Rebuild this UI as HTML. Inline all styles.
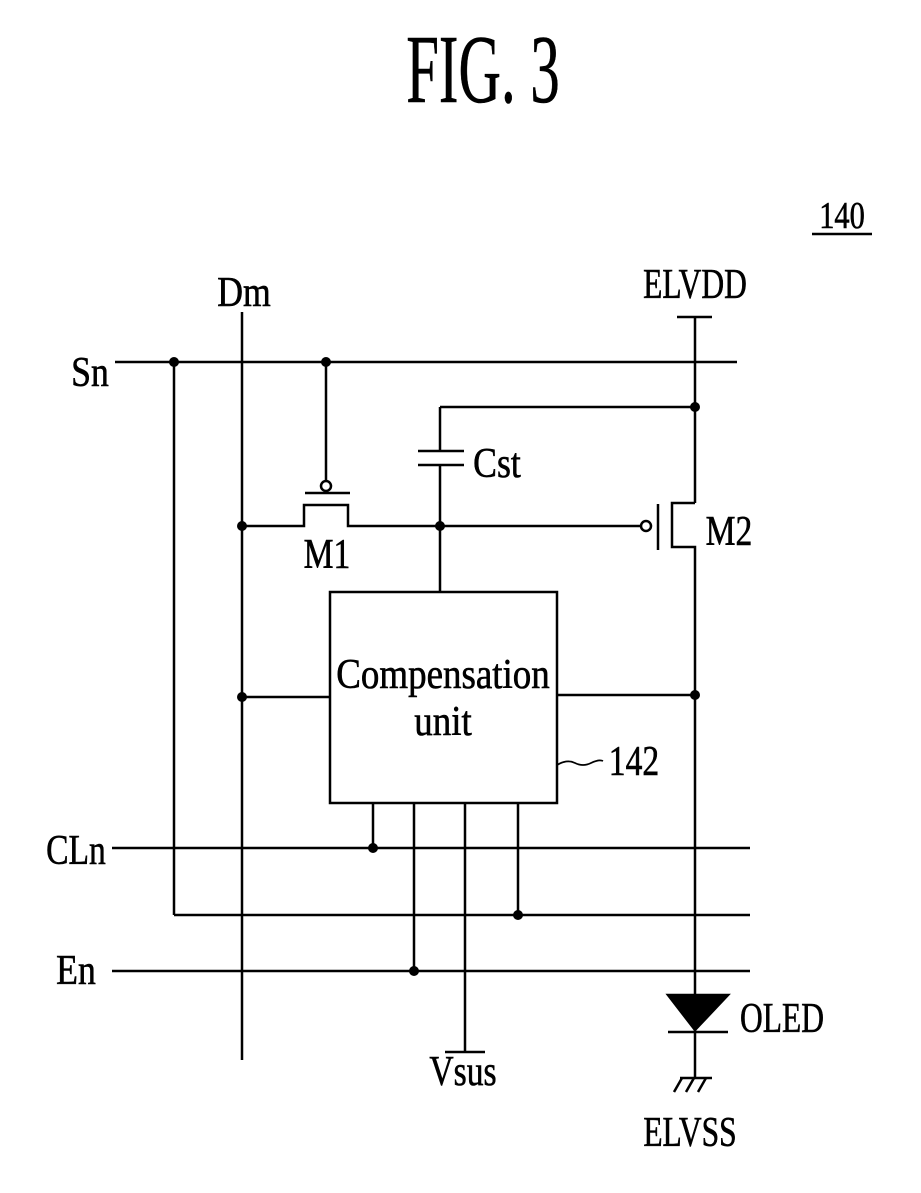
<!DOCTYPE html><html><head><style>body{margin:0;background:#fff}svg{display:block}text{font-family:"Liberation Serif",serif;fill:#000;stroke:#000;stroke-width:0.6}</style></head><body>
<svg width="921" height="1193" viewBox="0 0 921 1193" xmlns="http://www.w3.org/2000/svg">
<text x="483" y="102" font-size="98" text-anchor="middle" transform="translate(483,0) scale(0.6,1) translate(-483,0)" stroke-width="1">FIG. 3</text>
<g stroke="#000" stroke-width="2.5" fill="none">
<line x1="812" y1="234" x2="872" y2="234"/>
<line x1="115" y1="362" x2="737" y2="362"/>
<line x1="242" y1="312" x2="242" y2="1060"/>
<line x1="677" y1="317" x2="712" y2="317"/>
<line x1="695" y1="317" x2="695" y2="503"/>
<line x1="440" y1="407" x2="695" y2="407"/>
<line x1="440" y1="407" x2="440" y2="451"/>
<line x1="418" y1="451" x2="464" y2="451"/>
<line x1="418" y1="465" x2="464" y2="465"/>
<line x1="440" y1="465" x2="440" y2="592"/>
<line x1="326" y1="362" x2="326" y2="480"/>
<circle cx="326" cy="486" r="5"/>
<line x1="305" y1="493" x2="350" y2="493"/>
<polyline points="242,526 304,526 304,505 348,505 348,526 640,526"/>
<circle cx="646" cy="526" r="5"/>
<line x1="658" y1="504" x2="658" y2="550"/>
<polyline points="695,503 672,503 672,547 695,547 695,995"/>
<rect x="330" y="592" width="227" height="211"/>
<line x1="242" y1="697" x2="330" y2="697"/>
<line x1="557" y1="695" x2="695" y2="695"/>
<path d="M557,765 q10,-6 18,-2 t16,0 t12,-2" stroke-width="1.8"/>
<line x1="112" y1="848" x2="750" y2="848"/>
<line x1="373" y1="803" x2="373" y2="848"/>
<line x1="174" y1="362" x2="174" y2="915"/>
<line x1="174" y1="915" x2="750" y2="915"/>
<line x1="518" y1="803" x2="518" y2="915"/>
<line x1="112" y1="971" x2="750" y2="971"/>
<line x1="414" y1="803" x2="414" y2="971"/>
<line x1="465" y1="803" x2="465" y2="1052"/>
<line x1="445" y1="1052" x2="485" y2="1052"/>
<polygon points="668,995 728,995 695,1030" fill="#000"/>
<line x1="668" y1="1032" x2="728" y2="1032"/>
<line x1="695" y1="1030" x2="695" y2="1078"/>
<line x1="680" y1="1078" x2="712" y2="1078"/>
<line x1="682" y1="1078" x2="674" y2="1092"/><line x1="694" y1="1078" x2="686" y2="1092"/><line x1="706" y1="1078" x2="698" y2="1092"/>
</g>
<g fill="#000">
<circle cx="174" cy="362" r="5"/><circle cx="326" cy="362" r="5"/><circle cx="695" cy="407" r="5"/>
<circle cx="242" cy="526" r="5"/><circle cx="440" cy="526" r="5"/><circle cx="242" cy="697" r="5"/>
<circle cx="695" cy="695" r="5"/><circle cx="373" cy="848" r="5"/><circle cx="518" cy="915" r="5"/><circle cx="414" cy="971" r="5"/>
</g>
<g font-size="42">
<text x="842" y="228" text-anchor="middle" font-size="38" transform="translate(842,0) scale(0.8,1) translate(-842,0)">140</text>
<text x="244" y="306" text-anchor="middle" transform="translate(244,0) scale(0.85,1) translate(-244,0)">Dm</text>
<text x="695" y="298" text-anchor="middle" transform="translate(695,0) scale(0.75,1) translate(-695,0)">ELVDD</text>
<text x="90" y="386" text-anchor="middle" transform="translate(90,0) scale(0.85,1) translate(-90,0)">Sn</text>
<text x="497" y="477" text-anchor="middle" transform="translate(497,0) scale(0.85,1) translate(-497,0)">Cst</text>
<text x="327" y="568" text-anchor="middle" transform="translate(327,0) scale(0.8,1) translate(-327,0)">M1</text>
<text x="729" y="545" text-anchor="middle" transform="translate(729,0) scale(0.8,1) translate(-729,0)">M2</text>
<text x="443" y="688" text-anchor="middle" transform="translate(443,0) scale(0.88,1) translate(-443,0)">Compensation</text>
<text x="443" y="735" text-anchor="middle" transform="translate(443,0) scale(0.88,1) translate(-443,0)">unit</text>
<text x="634" y="775" text-anchor="middle" transform="translate(634,0) scale(0.8,1) translate(-634,0)">142</text>
<text x="76" y="864" text-anchor="middle" transform="translate(76,0) scale(0.8,1) translate(-76,0)">CLn</text>
<text x="76" y="984" text-anchor="middle" transform="translate(76,0) scale(0.85,1) translate(-76,0)">En</text>
<text x="782" y="1032" text-anchor="middle" transform="translate(782,0) scale(0.75,1) translate(-782,0)">OLED</text>
<text x="463" y="1085" text-anchor="middle" transform="translate(463,0) scale(0.8,1) translate(-463,0)">Vsus</text>
<text x="690" y="1146" text-anchor="middle" transform="translate(690,0) scale(0.75,1) translate(-690,0)">ELVSS</text>
</g>
</svg></body></html>
